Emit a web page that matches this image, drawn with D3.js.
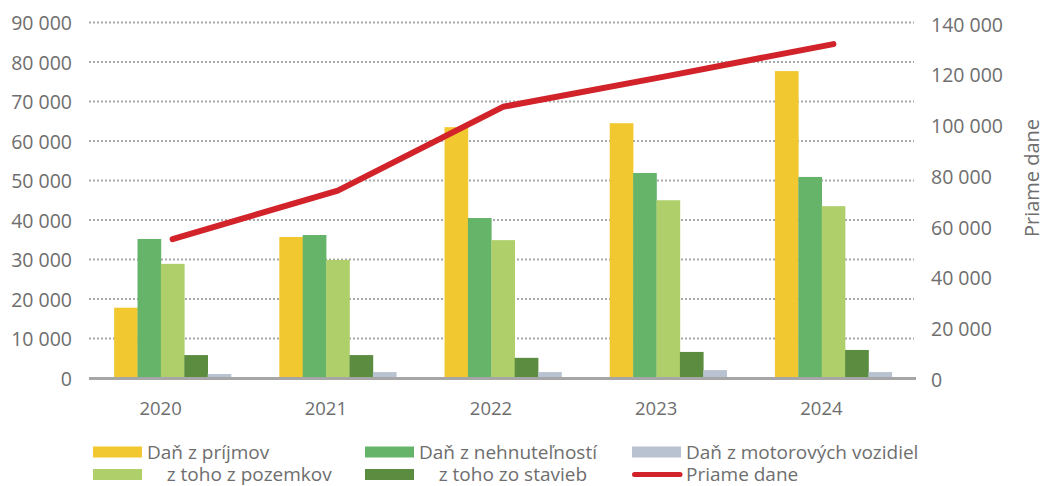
<!DOCTYPE html>
<html>
<head>
<meta charset="utf-8">
<script src="https://cdn.jsdelivr.net/npm/d3@7"></script>
<style>
  html, body { margin: 0; padding: 0; background: #fff; }
  svg { display: block; font-family: "Open Sans", sans-serif; }
  text { fill: #6e6e6e; white-space: pre; }
</style>
</head>
<body>
<svg id="chart" width="1044" height="486"></svg>
<script>
// ---- Data ----
const categories = ["2020", "2021", "2022", "2023", "2024"];
const danPrijmov        = [17800, 35700, 63500, 64500, 77700];
const danNehnutelnosti  = [35200, 36200, 40500, 51900, 50900];
const zTohoPozemkov     = [28900, 29900, 34900, 45000, 43500];
const zTohoStavieb      = [5800, 5800, 5100, 6600, 7100];
const danMotorovych     = [1000, 1500, 1500, 2000, 1500];
const priameDane        = [54700, 73800, 106800, 119000, 131500];

const leftTicks  = [0, 10000, 20000, 30000, 40000, 50000, 60000, 70000, 80000, 90000];
const rightTicks = [0, 20000, 40000, 60000, 80000, 100000, 120000, 140000];
const seriesNames = ["Daň z príjmov", "Daň z nehnuteľností", "    z toho z pozemkov", "    z toho zo stavieb", "Daň z motorových vozidiel"];
const lineName = "Priame dane";
const rightAxisTitle = "Priame dane";

// ---- Layout ----
const colors = ["#F2C830", "#65B46A", "#AFCF6B", "#5B8C3F", "#B8C2D0"];
const lineColor = "#D2232A";
const barSeries = [danPrijmov, danNehnutelnosti, zTohoPozemkov, zTohoStavieb, danMotorovych];

const svg = d3.select("#chart");
const x0 = 90, x1 = 916, yBottom = 378, yTop = 22.5;

const x = d3.scaleBand().domain(categories).range([x0, x1]).paddingInner(0.292).paddingOuter(0.146);
const xs = d3.scaleBand().domain(d3.range(barSeries.length)).range([0, x.bandwidth()]);
const yL = d3.scaleLinear().domain([0, 90000]).range([yBottom, yTop]);
const yR = d3.scaleLinear().domain([0, 140000]).range([yBottom, yTop]);

const fmt = v => d3.format(",")(v).replace(/,/g, " ");

// gridlines
svg.append("g").selectAll("line").data(leftTicks.filter(d => d > 0)).join("line")
  .attr("x1", 89).attr("x2", 914)
  .attr("y1", d => yL(d)).attr("y2", d => yL(d))
  .attr("stroke", "#A8A8A8").attr("stroke-width", 2).attr("stroke-dasharray", "2,2");

// bars
const groups = svg.append("g").selectAll("g").data(categories).join("g")
  .attr("transform", d => `translate(${x(d)},0)`);
groups.selectAll("rect").data((c, i) => barSeries.map((s, k) => ({k, v: s[i]}))).join("rect")
  .attr("x", d => xs(d.k)).attr("width", xs.bandwidth() + 0.3)
  .attr("y", d => yL(d.v)).attr("height", d => yBottom - yL(d.v))
  .attr("fill", d => colors[d.k]);

// axis baseline
svg.append("line").attr("x1", 89).attr("x2", 916).attr("y1", yBottom + 0.5).attr("y2", yBottom + 0.5)
  .attr("stroke", "#A6A6A6").attr("stroke-width", 3);

// line
const line = d3.line().x((d, i) => x(categories[i]) + x.bandwidth() / 2).y(d => yR(d));
svg.append("path").datum(priameDane).attr("d", line)
  .attr("fill", "none").attr("stroke", lineColor).attr("stroke-width", 6)
  .attr("stroke-linecap", "round").attr("stroke-linejoin", "round");

// left axis labels
const axL = d3.axisLeft(yL).tickValues(leftTicks).tickFormat(fmt).tickSize(0).tickPadding(0);
const gL = svg.append("g").attr("transform", "translate(72,0)").call(axL);
gL.select(".domain").remove();
gL.selectAll("text").attr("font-size", "19.5px").attr("font-family", "Open Sans").attr("fill", "#6e6e6e").attr("dy", "0.36em");

// right axis labels
const axR = d3.axisRight(yR).tickValues(rightTicks).tickFormat(fmt).tickSize(0).tickPadding(0);
const gR = svg.append("g").attr("transform", "translate(931,1.5)").call(axR);
gR.select(".domain").remove();
gR.selectAll("text").attr("font-size", "19.5px").attr("font-family", "Open Sans").attr("fill", "#6e6e6e").attr("dy", "0.36em");

// x axis labels
const axX = d3.axisBottom(x).tickSize(0).tickPadding(0);
const gX = svg.append("g").attr("transform", `translate(-12,${yBottom + 37})`).call(axX);
gX.select(".domain").remove();
gX.selectAll("text").attr("font-size", "18.5px").attr("font-family", "Open Sans").attr("fill", "#6e6e6e").attr("dy", "0");

// right axis title
svg.append("text").attr("transform", "translate(1039,178) rotate(-90)")
  .attr("text-anchor", "middle").attr("font-size", "20px").text(rightAxisTitle);

// legend
const legendItems = [
  {name: seriesNames[0], color: colors[0], type: "rect", col: 0, row: 0},
  {name: seriesNames[1], color: colors[1], type: "rect", col: 1, row: 0},
  {name: seriesNames[4], color: colors[4], type: "rect", col: 2, row: 0},
  {name: seriesNames[2], color: colors[2], type: "rect", col: 0, row: 1},
  {name: seriesNames[3], color: colors[3], type: "rect", col: 1, row: 1},
  {name: lineName, color: lineColor, type: "line", col: 2, row: 1}
];
const colX = [93, 365, 632], rowY = [452, 474.5];
const lg = svg.append("g").selectAll("g").data(legendItems).join("g")
  .attr("transform", d => `translate(${colX[d.col]},${rowY[d.row]})`);
lg.filter(d => d.type === "rect").append("rect")
  .attr("x", 0).attr("y", -5.5).attr("width", 49).attr("height", 11).attr("fill", d => d.color);
lg.filter(d => d.type === "line").append("line")
  .attr("x1", 2.5).attr("x2", 48).attr("y1", 0).attr("y2", 0)
  .attr("stroke", d => d.color).attr("stroke-width", 5).attr("stroke-linecap", "round");
lg.append("text").attr("x", 54).attr("y", 0).attr("dy", "0.36em")
  .attr("font-size", "19px").text(d => d.name);
</script>
</body>
</html>
